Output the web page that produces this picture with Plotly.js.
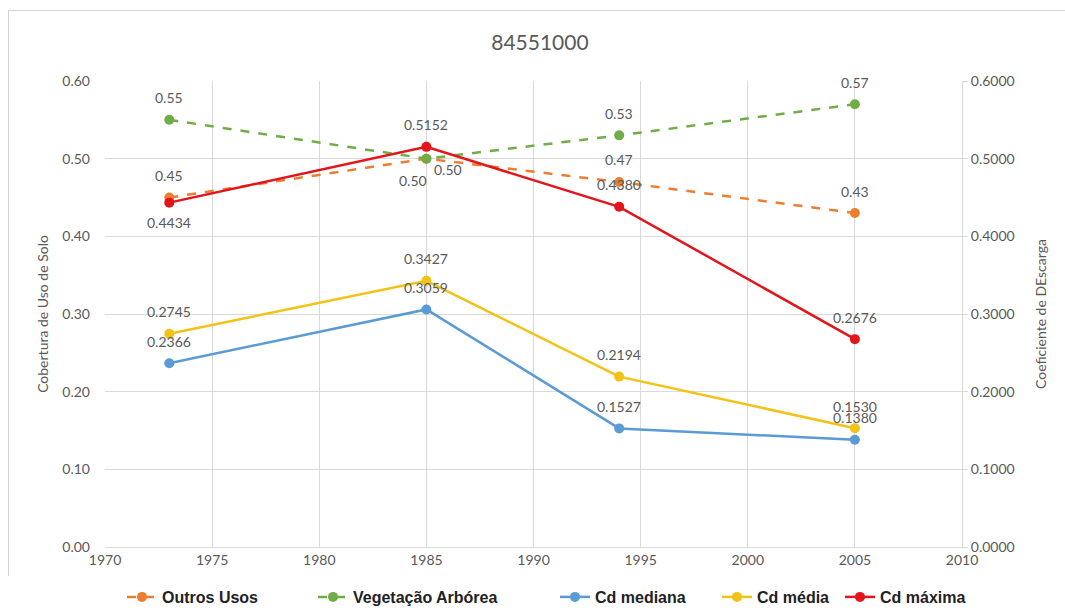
<!DOCTYPE html>
<html>
<head>
<meta charset="utf-8">
<script src="https://cdn.plot.ly/plotly-3.0.1.min.js"></script>
<style>
  html, body { margin: 0; padding: 0; background: #ffffff; }
  #wrap { position: relative; width: 1065px; height: 612px; overflow: hidden; }
  #chart { position: absolute; left: 0; top: 0; width: 1065px; height: 612px; }
  #frame { position: absolute; left: 8px; top: 10px; width: 1070px; height: 565px;
           border-top: 1px solid #d4d4d4; border-left: 1px solid #d4d4d4; pointer-events: none; }
</style>
</head>
<body>
<div id="wrap">
  <div id="chart"></div>
  <div id="frame"></div>
</div>
<script>
// Survey years
const years = [1973, 1985, 1994, 2005];

// Land-cover shares (left axis)
const outrosUsos = [0.45, 0.50, 0.47, 0.43];
const vegetacaoArborea = [0.55, 0.50, 0.53, 0.57];

// Discharge coefficients (right axis)
const cdMediana = [0.2366, 0.3059, 0.1527, 0.1380];
const cdMedia = [0.2745, 0.3427, 0.2194, 0.1530];
const cdMaxima = [0.4434, 0.5152, 0.4380, 0.2676];

const baseFont = 'Lato, "Open Sans", sans-serif';
const labelFont = { family: baseFont, size: 14, color: '#595959' };

// Page geometry of the plotting area
const W = 1065, H = 612;
const M = { l: 105, r: 103, t: 81, b: 10 };
const plotBottom = 547;
const plotW = W - M.l - M.r;
const plotH = H - M.t - M.b;
const px2x = px => (px - M.l) / plotW;
const px2y = py => (H - M.b - py) / plotH;

const series = [
  { name: 'Outros Usos', y: outrosUsos, axis: 'y', color: '#ED7D31', dash: 'dash', fmt: 2,
    pos: ['up', 'right', 'up', 'up'], legendText: 162 },
  { name: 'Vegetação Arbórea', y: vegetacaoArborea, axis: 'y', color: '#70AD47', dash: 'dash', fmt: 2,
    pos: ['up', 'downleft', 'up', 'up'], legendText: 353 },
  { name: 'Cd mediana', y: cdMediana, axis: 'y2', color: '#5B9BD5', dash: 'solid', fmt: 4,
    pos: ['up', 'up', 'up', 'up'], legendText: 595 },
  { name: 'Cd média', y: cdMedia, axis: 'y2', color: '#F2C314', dash: 'solid', fmt: 4,
    pos: ['up', 'up', 'up', 'up'], legendText: 757 },
  { name: 'Cd máxima', y: cdMaxima, axis: 'y2', color: '#E3151B', dash: 'solid', fmt: 4,
    pos: ['down', 'up', 'up', 'up'], legendText: 880 }
];

const traces = series.map((s, k) => ({
  type: 'scatter',
  mode: 'lines+markers',
  name: s.name,
  x: years,
  y: s.y,
  yaxis: s.axis,
  legend: k === 0 ? 'legend' : 'legend' + (k + 1),
  line: { color: s.color, width: 2.5, dash: s.dash },
  marker: { color: s.color, size: 10 },
  hoverinfo: 'x+y'
}));

// Data labels placed beside each point
const shifts = {
  up: { xs: 0, ys: 22 },
  down: { xs: 0, ys: -20 },
  right: { xs: 22, ys: -11 },
  downleft: { xs: -13, ys: -22 }
};
const annotations = [];
series.forEach(s => {
  s.y.forEach((v, i) => {
    const sh = shifts[s.pos[i]];
    annotations.push({
      x: years[i], y: v, xref: 'x', yref: s.axis,
      text: v.toFixed(s.fmt), showarrow: false,
      xshift: sh.xs, yshift: sh.ys, font: labelFont
    });
  });
});

const tickFont = { family: baseFont, size: 14, color: '#595959' };
const domainBottom = px2y(plotBottom);

const layout = {
  width: W, height: H,
  margin: { l: M.l, r: M.r, t: M.t, b: M.b, pad: 0, autoexpand: false },
  paper_bgcolor: '#ffffff', plot_bgcolor: '#ffffff',
  title: { text: '84551000', x: 0.507, xanchor: 'center', y: 0.93, yanchor: 'middle',
           font: { family: baseFont, size: 21, color: '#595959' } },
  showlegend: true,
  xaxis: {
    range: [1970, 2010], dtick: 5, tick0: 1970,
    showgrid: true, gridcolor: '#d9d9d9', gridwidth: 1,
    zeroline: false, showline: true, linecolor: '#d9d9d9',
    ticks: '', tickfont: tickFont, fixedrange: true,
    anchor: 'y'
  },
  yaxis: {
    domain: [domainBottom, 1],
    range: [0, 0.6], dtick: 0.1, tickformat: '.2f',
    showgrid: true, gridcolor: '#d9d9d9', gridwidth: 1,
    zeroline: false, showline: false, ticks: '',
    tickfont: tickFont, ticklabelstandoff: 14,
    title: { text: 'Cobertura de Uso de Solo', standoff: 10,
             font: { family: baseFont, size: 14, color: '#595959' } },
    fixedrange: true
  },
  yaxis2: {
    overlaying: 'y', side: 'right',
    range: [0, 0.6], dtick: 0.1, tickformat: '.4f',
    showgrid: false, zeroline: false,
    showline: true, linecolor: '#d9d9d9',
    ticks: 'outside', ticklen: 5, tickcolor: '#d9d9d9',
    tickfont: tickFont,
    title: { text: 'Coeficiente de DEscarga', standoff: 22,
             font: { family: baseFont, size: 14, color: '#595959' } },
    fixedrange: true
  },
  annotations: annotations
};

// One legend box per series so each entry sits at its own spot along the bottom row
series.forEach((s, k) => {
  const key = k === 0 ? 'legend' : 'legend' + (k + 1);
  layout[key] = {
    x: px2x(s.legendText - 40), xanchor: 'left',
    y: px2y(597), yanchor: 'middle',
    orientation: 'h', bgcolor: 'rgba(0,0,0,0)', borderwidth: 0,
    font: { family: 'Arial, "Liberation Sans", sans-serif', size: 16, color: '#222222', weight: 'bold' }
  };
});

Plotly.newPlot('chart', traces, layout, { displayModeBar: false, staticPlot: true });
</script>
</body>
</html>
